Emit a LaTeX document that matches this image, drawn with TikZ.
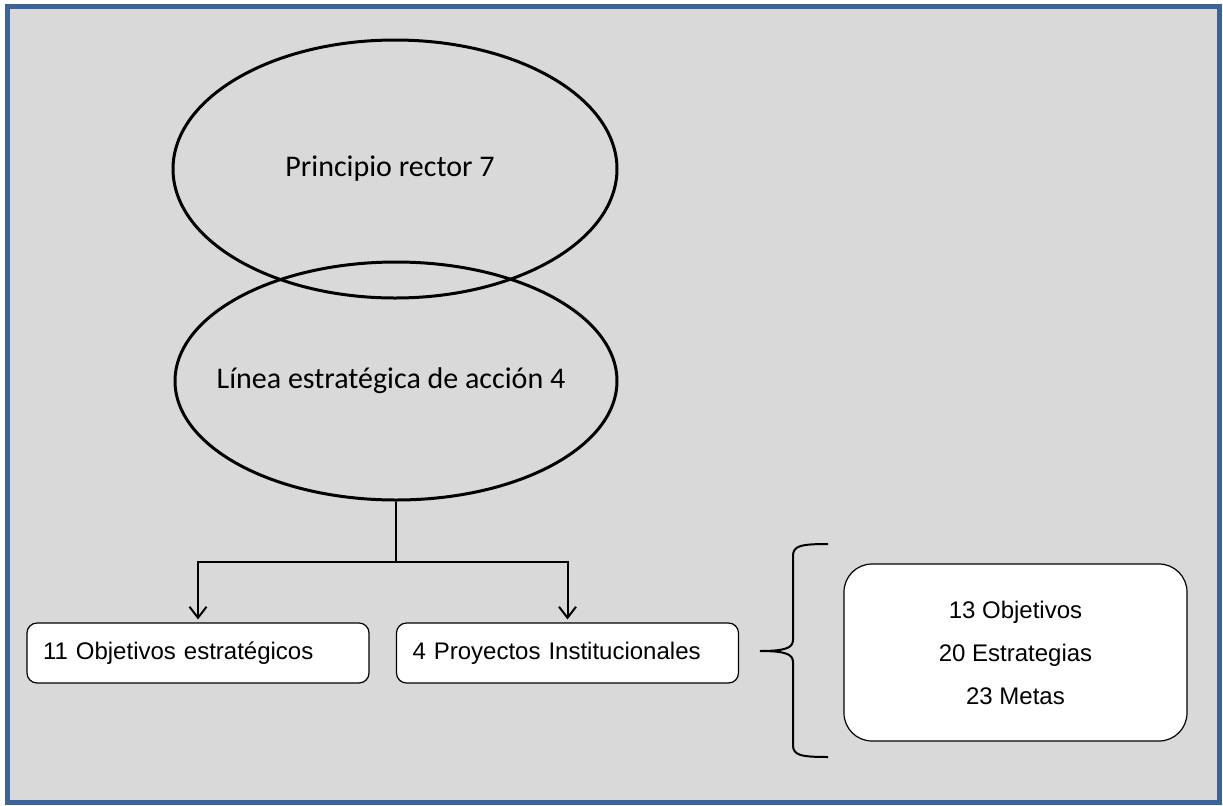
\documentclass[tikz,border=0pt]{standalone}
\usepackage{fontspec}
\setmainfont{Liberation Sans}
\newfontfamily\calibri{Carlito}
\usetikzlibrary{positioning}
\usetikzlibrary{arrows.meta, shapes.geometric}

\definecolor{marco}{HTML}{3C6395}
\definecolor{fondo}{HTML}{D9D9D9}

\begin{document}
\begin{tikzpicture}[x=0.5pt,y=-0.5pt]
 \tikzset{elipse/.style={
 		ellipse, draw,
 		line width=1.5pt,
 		inner sep=0pt,
 		label={[font=\calibri\fontsize{15}{18}\selectfont, xshift=-2.5pt]center:#1}
 	},
 	caja/.style={
 		draw, fill=white,
 		rounded corners=5pt,
 		line width=0.6pt,
 		minimum height=30pt,
 		text width=155pt,
 		inner xsep=8pt,
 		align=left,
 		font=\fontsize{12}{14}\selectfont
 	},
 	flecha/.style={line width=1pt, -{Straight Barb[length=5.5pt,width=8.5pt]}, shorten >=1.5pt}
 }
 \useasboundingbox (0,0) rectangle (1223,805);
 % marco y fondo
 \draw[marco, line width=2.5pt, fill=fondo] (7.5,6.5) rectangle (1219.5,802.5);

 \node[elipse={Principio rector 7}, minimum width=222pt, minimum height=129pt] (ppio) at (395,169) {};
 \node[elipse={L\'inea estrat\'egica de acci\'on 4}, minimum width=221pt, minimum height=119pt] (linea) at (396,381) {};

 \node[caja] (objest) at (198,653) {11 Objetivos estrat\'egicos};
 \node[caja] (proy) at (567.5,653) {4 Proyectos Institucionales};

 \draw[line width=1pt] (linea.south) -- ++(0,60) coordinate (rama);
 \draw[flecha] (rama) -| (objest.north);
 \draw[flecha] (rama) -| (proy.north);

 % llave
 \draw[line width=1pt] (828,544) .. controls (800,544) and (793,546) .. (793,556)
 	-- (793,640) .. controls (793,648) and (785,651) .. (760,651)
 	.. controls (785,651) and (793,654) .. (793,662)
 	-- (793,745) .. controls (793,755) and (800,757) .. (828,757);

 \node[draw, fill=white, rounded corners=14pt, line width=0.6pt,
 	minimum width=171.5pt, minimum height=88.5pt, align=center,
 	font=\fontsize{12}{21.5}\selectfont] (detalle) at (1015.5,652.5)
 	{13 Objetivos\\20 Estrategias\\23 Metas};
\end{tikzpicture}
\end{document}
